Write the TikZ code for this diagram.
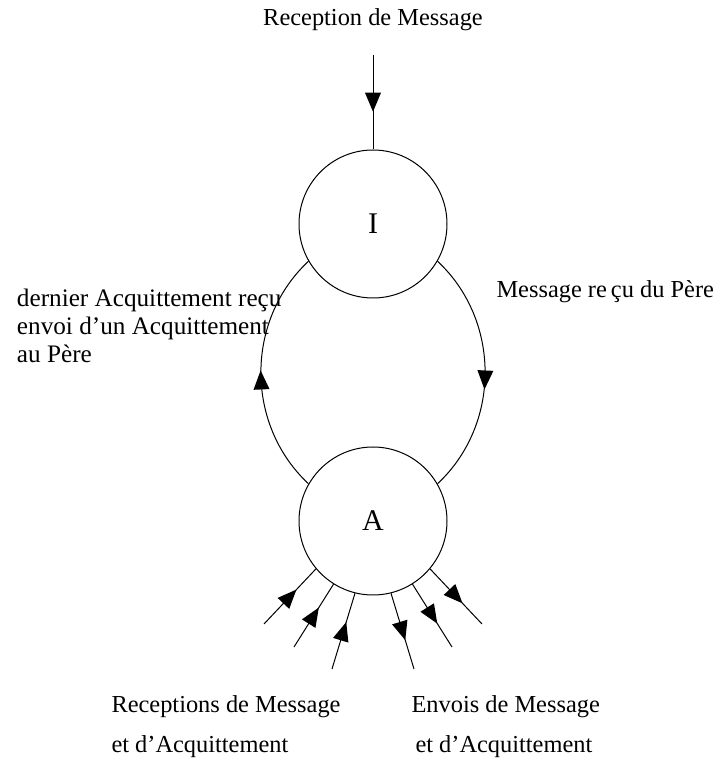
\documentclass[tikz,border=0pt]{standalone}
\usepackage{fontspec}
\setmainfont{Liberation Serif}
\usetikzlibrary{decorations.markings}

\tikzset{
    etat/.style = {circle, draw, minimum size=74pt, inner sep=0pt, font=\fontsize{15pt}{18pt}\selectfont},
    lbl/.style = {inner sep=0pt, font=\fontsize{12.2pt}{14pt}\selectfont},
    biglbl/.style = {lbl, font=\fontsize{12.6pt}{14pt}\selectfont},
    midtri/.style = {postaction={decorate}, decoration={markings,
        mark=at position #1 with {\fill (4.75pt,0pt) -- (-4.75pt,4pt) -- (-4.75pt,-4pt) -- cycle;}}},
    midtri/.default = 0.5
}

\begin{document}
\begin{tikzpicture}[x=0.5pt, y=0.5pt, line width=0.5pt]
    \useasboundingbox (0,0) rectangle (716,761);

    % Vertices
    \node[etat] (I) at (373,537) {I};
    \node[etat] (A) at (373,240) {A};

    % Labels
    \node[lbl, anchor=base] (recep) at (373,735) {Reception de Message};
    \node[biglbl, anchor=base west] (ack1) at (16.5,454) {dernier Acquittement reçu};
    \node[biglbl, anchor=base west] (ack2) at (16.5,426) {envoi d’un Acquittement};
    \node[biglbl, anchor=base west] (ack3) at (16.5,398) {au Père};
    \node[lbl, anchor=base west] (msg) at (496,463) {Message re\,çu du Père};
    \node[lbl, anchor=base west] (rec1) at (111,48) {Receptions de Message};
    \node[lbl, anchor=base west] (rec2) at (111,9) {et d’Acquittement};
    \node[lbl, anchor=base west] (env1) at (411,48) {Envois de Message};
    \node[lbl, anchor=base west] (env2) at (415,9) {et d’Acquittement};

    % Edges
    \coordinate (in) at (373,706);
    \draw[midtri] (in) -- (I.north);
    \draw[midtri=0.53] (I.330) to[out=-43, in=43] (A.30);
    \draw[midtri=0.47] (A.150) to[out=137, in=223] (I.210);

    % Receptions and envois
    \foreach \ang/\ox/\oy [count=\i] in {220/264/137, 238/294/114, 256/332/92}
        {\coordinate (r\i) at (\ox,\oy); \draw[midtri] (r\i) -- (A.\ang);}
    \foreach \ang/\ox/\oy [count=\i] in {284/414/92, 302/452/114, 320/482/137}
        {\coordinate (e\i) at (\ox,\oy); \draw[midtri] (A.\ang) -- (e\i);}

\end{tikzpicture}
\end{document}
